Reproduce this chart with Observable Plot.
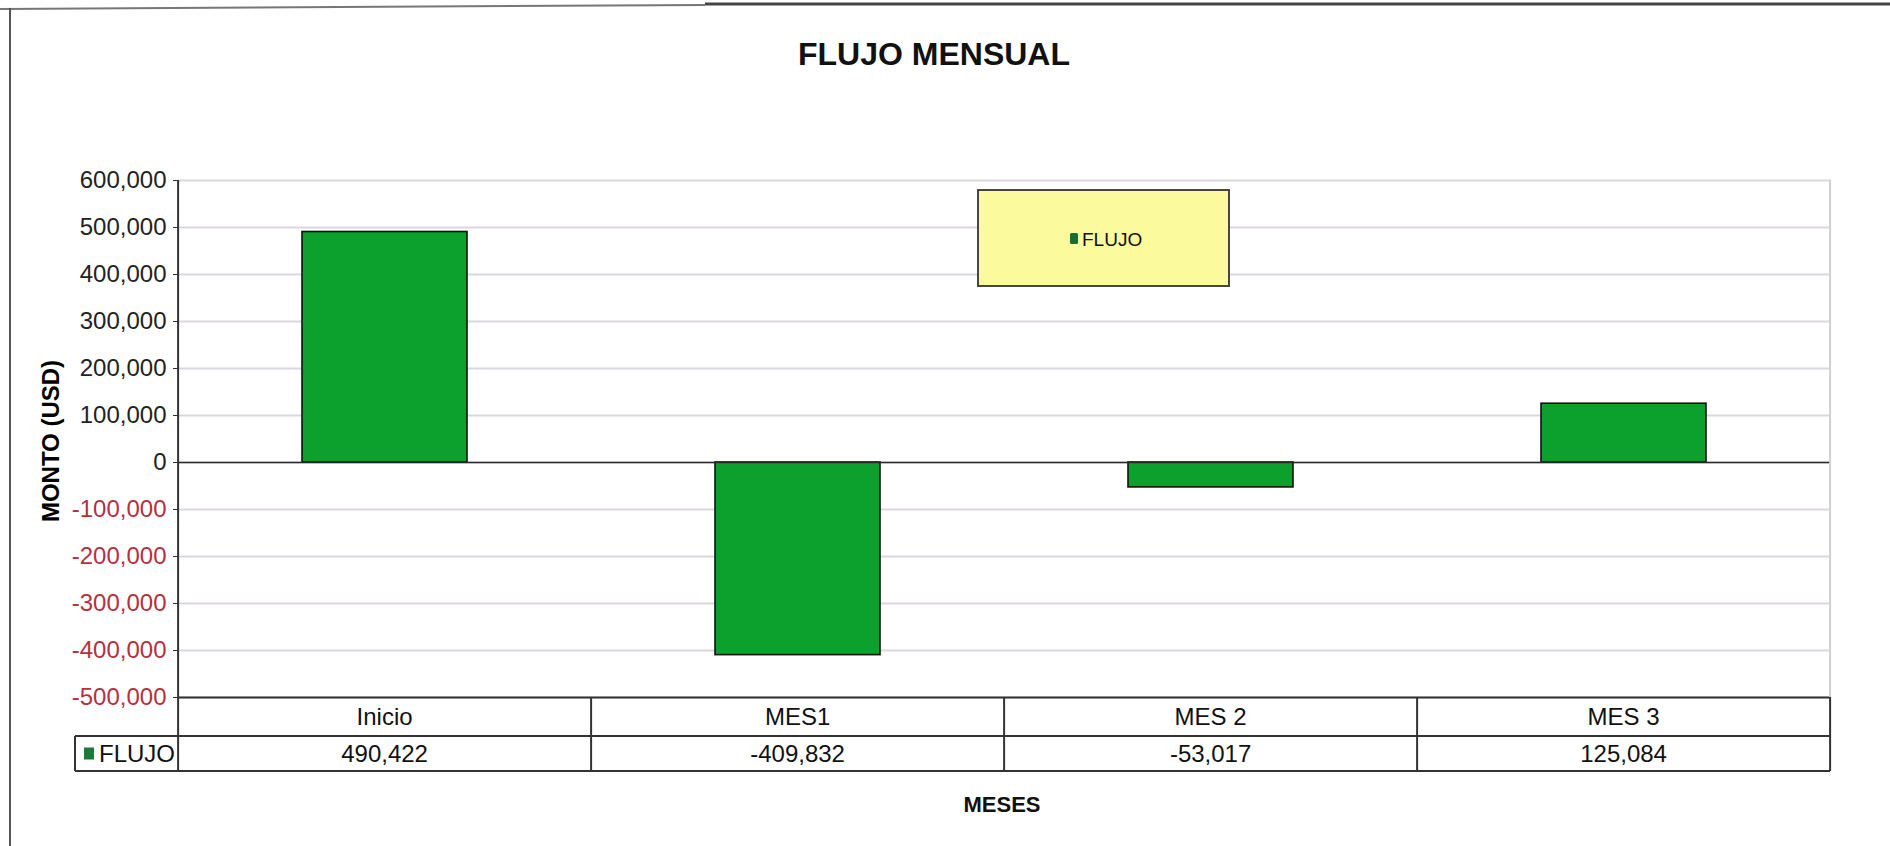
<!DOCTYPE html>
<html><head><meta charset="utf-8">
<script src="https://cdn.jsdelivr.net/npm/d3@7"></script>
<script src="https://cdn.jsdelivr.net/npm/@observablehq/plot@0.6"></script>
<style>
html,body{margin:0;padding:0;background:#fff;}
#chart svg{display:block;}
</style></head><body><div id="chart"></div>
<script>
const categories = ["Inicio", "MES1", "MES 2", "MES 3"];
const flujo = [490422, -409832, -53017, 125084];
const yTicks = [600000, 500000, 400000, 300000, 200000, 100000, 0, -100000, -200000, -300000, -400000, -500000];
const seriesName = "FLUJO";
const chartTitle = "FLUJO MENSUAL";
const yLabel = "MONTO (USD)";
const xLabel = "MESES";

const data = categories.map((c, i) => ({mes: c, valor: flujo[i]}));
const fmt = d => (d < 0 ? "-" : "") + d3.format(",")(Math.abs(d));
const FONT = "'Liberation Sans', Arial, sans-serif";

const W = 1890, H = 846, mL = 178, mR = 59, mT = 180, mB = 149;

const chart = Plot.plot({
  width: W, height: H,
  marginLeft: mL, marginRight: mR, marginTop: mT, marginBottom: mB,
  style: {fontFamily: FONT, background: "#fff", overflow: "visible"},
  x: {domain: categories, paddingInner: 0.6, paddingOuter: 0.3, axis: null},
  y: {domain: [-500000, 600000], axis: null},
  marks: [
    Plot.ruleY(yTicks, {stroke: "#dcd6e2", strokeWidth: 2}),
    Plot.barY(data, {x: "mes", y: "valor", fill: "#0ba12c", stroke: "#111", strokeWidth: 1.6}),
    Plot.ruleY([0], {stroke: "#2a2a2a", strokeWidth: 1.6}),
    Plot.ruleY([-500000], {stroke: "#333", strokeWidth: 2}),
    Plot.axisY({ticks: yTicks, tickFormat: fmt, tickSize: 5, tickPadding: 7, fontSize: 24, label: null,
      fill: d => d < 0 ? "#b3313f" : "#222", stroke: "#333"})
  ]
});
document.getElementById("chart").appendChild(chart);

const svg = d3.select(chart);
const xs = chart.scale("x"), ys = chart.scale("y");
const step = xs.step;
const colStart = c => xs.apply(c) - step * xs.paddingInner / 2;
const xLeft = colStart(categories[0]);
const xRight = colStart(categories[categories.length - 1]) + step;
const yTop = ys.apply(600000), y0 = ys.apply(-500000);
const y1 = y0 + 39, y2 = y0 + 74;
const legendLeft = 75;
const g = svg.append("g").attr("text-anchor", "start");
const line = (xa, ya, xb, yb, stroke = "#333", sw = 2) =>
  g.append("line").attr("x1", xa).attr("y1", ya).attr("x2", xb).attr("y2", yb)
    .attr("stroke", stroke).attr("stroke-width", sw);
const text = (x, y, s, size, anchor = "start", weight = "normal") =>
  g.append("text").attr("x", x).attr("y", y).attr("dy", "0.35em")
    .attr("text-anchor", anchor).attr("font-size", size).attr("font-weight", weight)
    .attr("fill", "#111").text(s);

// plot right border and y axis line
line(xRight, yTop, xRight, y0, "#cfcfd4", 2);
line(xLeft, yTop, xLeft, y2, "#333", 2);

// data table
line(legendLeft, y1, xRight, y1, "#333", 2);
line(legendLeft, y2, xRight, y2, "#333", 2);
line(legendLeft, y1, legendLeft, y2, "#333", 2);
line(xRight, y0, xRight, y2, "#333", 2);
categories.forEach((c, i) => {
  if (i > 0) line(colStart(c), y0, colStart(c), y2, "#333", 2);
  const cx = colStart(c) + step / 2;
  text(cx, (y0 + y1) / 2, c, 24, "middle");
  text(cx, (y1 + y2) / 2, fmt(flujo[i]), 24, "middle");
});
g.append("rect").attr("x", 84).attr("y", (y1 + y2) / 2 - 6).attr("width", 10).attr("height", 12)
  .attr("fill", "#1f7a3a");
text(99, (y1 + y2) / 2, seriesName, 24);

// legend box
g.append("rect").attr("x", 978).attr("y", 190).attr("width", 251).attr("height", 96)
  .attr("fill", "#fbfa9c").attr("stroke", "#333").attr("stroke-width", 1.8);
g.append("rect").attr("x", 1070).attr("y", 233).attr("width", 8).attr("height", 11).attr("rx", 1.5)
  .attr("fill", "#1c6b33");
text(1082, 239, seriesName, 19);

// title and axis labels
text(934, 54, chartTitle, 32, "middle", "bold");
g.append("text").attr("transform", "translate(51,441) rotate(-90)").attr("dy", "0.35em")
  .attr("text-anchor", "middle").attr("font-size", 24).attr("font-weight", "bold").attr("fill", "#000").text(yLabel);
text(1002, 804, xLabel, 22, "middle", "bold");

// outer frame
line(0, 9, 705, 5, "#777", 2);
line(705, 4, W, 4, "#444", 3);
line(10, 8, 10, H, "#555", 2);
</script></body></html>
